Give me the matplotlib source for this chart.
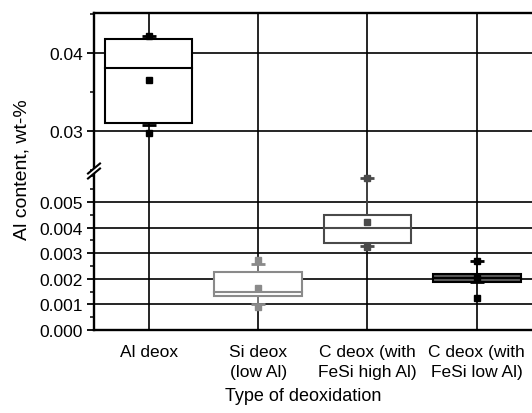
import numpy as np
import matplotlib
matplotlib.use('Agg')
import matplotlib.pyplot as plt
from matplotlib.ticker import MultipleLocator, FixedLocator

plt.rcParams['font.family'] = ['Liberation Sans', 'DejaVu Sans']

# Al content by deoxidation practice (wt-%)
categories = ['Al deox', 'Si deox\n(low Al)', 'C deox (with\nFeSi high Al)', 'C deox (with\nFeSi low Al)']
q1 = [0.0310, 0.00132, 0.00340, 0.00189]
median = [0.0381, 0.00147, 0.00400, 0.00205]
q3 = [0.0418, 0.00228, 0.00449, 0.00217]
mean = [0.0365, 0.00163, 0.00420, 0.00205]
whisker_lo = [0.0308, 0.00100, 0.00330, 0.00186]
whisker_hi = [0.0421, 0.00258, 0.00594, 0.00270]
data_min = [0.0297, 0.00089, 0.00323, 0.00125]
data_max = [0.0421, 0.00275, 0.00594, 0.00270]

edge_colors = ['black', '#8a8a8a', '#4a4a4a', 'black']
face_colors = ['white', 'white', 'white', '#5a5a5a']

W, H = 532, 414
fig = plt.figure(figsize=(W / 100, H / 100), dpi=100)

left, right = 94, 537
split, top_px, bot_px = 172, 14, 331
ax_top = fig.add_axes([left / W, 1 - split / H, (right - left) / W, (split - top_px) / H])
ax_bot = fig.add_axes([left / W, 1 - bot_px / H, (right - left) / W, (bot_px - split) / H])

ax_top.set_ylim(0.02487, 0.0451)
ax_bot.set_ylim(0.0, 0.00621)

xs = np.arange(1, len(categories) + 1)
bw = 0.8

for ax in (ax_top, ax_bot):
    ax.set_xlim(0.5, 4.55)
    ax.xaxis.set_major_locator(FixedLocator(xs))
    ax.spines['right'].set_visible(False)
    ax.grid(True, which='major', color='black', lw=1.2)
    ax.set_axisbelow(True)
    ax.tick_params(axis='y', which='major', direction='out', length=5, width=1.3, labelsize=12.5, pad=3)
    ax.tick_params(axis='y', which='minor', direction='out', length=3, width=1.1)
    ax.tick_params(axis='x', length=0)
    for s in ('left', 'top', 'bottom'):
        ax.spines[s].set_linewidth(1.7)

    for i, x in enumerate(xs):
        ec, fc = edge_colors[i], face_colors[i]
        ax.plot([x, x], [whisker_lo[i], q1[i]], color=ec, lw=1.2, zorder=3)
        ax.plot([x, x], [q3[i], whisker_hi[i]], color=ec, lw=1.2, zorder=3)
        ax.add_patch(plt.Rectangle((x - bw / 2, q1[i]), bw, q3[i] - q1[i],
                                   facecolor=fc, edgecolor=ec, lw=1.5, zorder=4))
        ax.plot([x - bw / 2, x + bw / 2], [median[i], median[i]], color=ec, lw=1.5, zorder=5)
        ax.plot([x], [mean[i]], marker='s', ms=4, color=ec, zorder=6)
        ax.plot([x, x], [whisker_lo[i], whisker_hi[i]], ls='none', marker='_', ms=10,
                mew=2, color=ec, zorder=6)
        ax.plot([x, x], [data_min[i], data_max[i]], ls='none', marker='s', ms=4.5,
                color=ec, zorder=6)

ax_top.spines['bottom'].set_visible(False)
ax_bot.spines['top'].set_visible(False)
ax_top.tick_params(axis='x', labelbottom=False)

ax_top.yaxis.set_major_locator(FixedLocator([0.03, 0.04]))
ax_top.yaxis.set_minor_locator(MultipleLocator(0.005))
ax_top.set_yticklabels(['0.03', '0.04'])

ax_bot.yaxis.set_major_locator(MultipleLocator(0.001))
ax_bot.yaxis.set_minor_locator(MultipleLocator(0.0005))
ax_bot.set_yticks(np.arange(0, 0.0051, 0.001))
ax_bot.set_yticklabels(['%.3f' % v for v in np.arange(0, 0.0051, 0.001)])

ax_bot.set_xticks(xs)
ax_bot.set_xticklabels(categories, fontsize=12.5, linespacing=1.4)
ax_bot.tick_params(axis='x', pad=10)

# axis break marks on the left spine
bx = left / W
by = 1 - split / H
dx, dy = 6 / W, 5 / H
gap = 5 / H
fig.add_artist(plt.Polygon([[bx - dx, by - dy - gap / 2], [bx + dx, by + dy - gap / 2],
                            [bx + dx, by + dy + gap / 2], [bx - dx, by - dy + gap / 2]],
                           closed=True, facecolor='white', edgecolor='none', zorder=10))
for off in (-gap / 2, gap / 2):
    fig.add_artist(plt.Line2D([bx - dx, bx + dx], [by - dy + off, by + dy + off],
                              color='black', lw=1.5, zorder=11))

fig.text(22 / W, 1 - 170 / H, 'Al content, wt-%', rotation=90, ha='center', va='center',
         fontsize=14)
fig.text(303 / W, 1 - 397 / H, 'Type of deoxidation', ha='center', va='center', fontsize=13)

fig.savefig('out.png', dpi=100)
